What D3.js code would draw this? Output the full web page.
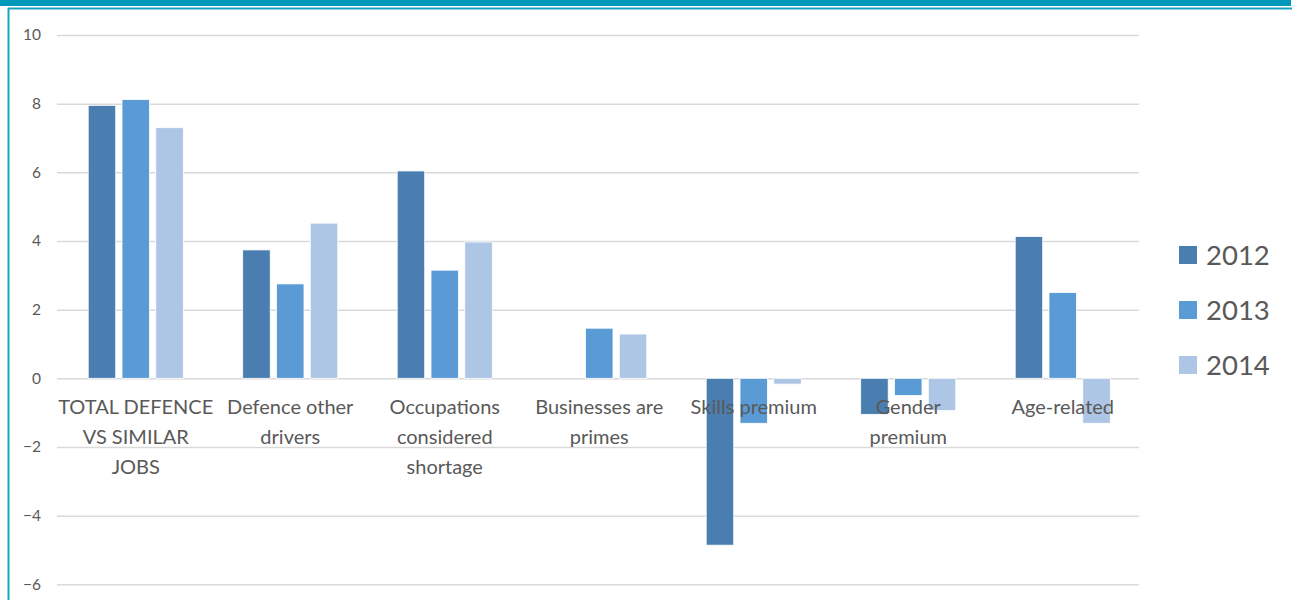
<!DOCTYPE html><meta charset="utf-8">
<style>*{margin:0}body{background:#fff}text{font-family:Lato,"Noto Sans",sans-serif;fill:#595959}</style>
<svg width="1292" height="600"></svg>
<script src="https://d3js.org/d3.v7.min.js"></script>
<script>
const categories = ["TOTAL DEFENCE VS SIMILAR JOBS","Defence other drivers","Occupations considered shortage",
                    "Businesses are primes","Skills premium","Gender premium","Age-related"];
const labelLines = [["TOTAL DEFENCE","VS SIMILAR","JOBS"],["Defence other","drivers"],["Occupations","considered","shortage"],
                    ["Businesses are","primes"],["Skills premium"],["Gender","premium"],["Age-related"]];
const years = ["2012","2013","2014"];
const v2012 = [7.95, 3.74, 6.04, 0,    -4.86, -1.05, 4.13];
const v2013 = [8.12, 2.75, 3.15, 1.46, -1.31, -0.50, 2.50];
const v2014 = [7.30, 4.52, 3.97, 1.29, -0.17, -0.94, -1.31];
const yTicks = [-6,-4,-2,0,2,4,6,8,10];
const colors = ["#4a7eb0","#5b9bd5","#adc6e5"];

const svg = d3.select("svg"),
      series = [v2012, v2013, v2014];

// frame
svg.append("rect").attr("x",0).attr("y",0).attr("width",1291).attr("height",6).attr("fill","#0099bb");
svg.append("line").attr("x1",8).attr("x2",1292).attr("y1",8.5).attr("y2",8.5).attr("stroke","#19a3c2").attr("stroke-width",2);
svg.append("line").attr("x1",8.5).attr("x2",8.5).attr("y1",8).attr("y2",600).attr("stroke","#19a3c2").attr("stroke-width",2);

const y = d3.scaleLinear().domain([-6,10]).range([584.3,35]);
const x0 = d3.scaleBand().domain(categories).range([58.5,1140]);
const W = 95.1;
const x1 = d3.scaleBand().domain(years)
   .range([(x0.bandwidth()-W)/2,(x0.bandwidth()+W)/2]).paddingInner(0.186);

// gridlines + tick labels
const yAxis = svg.append("g").attr("transform","translate(57,0)")
   .call(d3.axisLeft(y).tickValues(yTicks).tickSize(-1082).tickPadding(16));
yAxis.select(".domain").remove();
yAxis.selectAll(".tick line").attr("stroke","#d9d9d9").attr("stroke-width",1.5);
yAxis.selectAll(".tick text").attr("font-size",15.5).style("fill","#595959");

// bars
const groups = svg.append("g").selectAll("g").data(categories).join("g")
   .attr("transform",d=>`translate(${x0(d)},0)`);
groups.selectAll("rect").data((d,i)=>years.map((yr,j)=>({yr,j,v:series[j][i]})))
   .join("rect")
   .attr("x",d=>x1(d.yr)).attr("width",x1.bandwidth())
   .attr("y",d=>y(Math.max(0,d.v))).attr("height",d=>Math.abs(y(d.v)-y(0)))
   .attr("fill",d=>colors[d.j]).attr("stroke","#fff").attr("stroke-width",0.8);

// category labels
svg.append("g").selectAll("text").data(categories).join("text")
   .attr("x",d=>x0(d)+x0.bandwidth()/2).attr("y",414)
   .attr("text-anchor","middle").attr("font-size",20)
   .each(function(d,i){
      d3.select(this).selectAll("tspan").data(labelLines[i]).join("tspan")
        .attr("x",x0(d)+x0.bandwidth()/2).attr("dy",(t,k)=>k?30:0).text(t=>t);
   });

// legend
const leg = svg.append("g").selectAll("g").data(years).join("g")
   .attr("transform",(d,i)=>`translate(1179,${255+i*55})`);
leg.append("rect").attr("x",0).attr("y",-9).attr("width",18).attr("height",18)
   .attr("fill",(d,i)=>colors[i]);
leg.append("text").attr("x",27).attr("y",10).attr("font-size",27.5).text(d=>d);
</script>
